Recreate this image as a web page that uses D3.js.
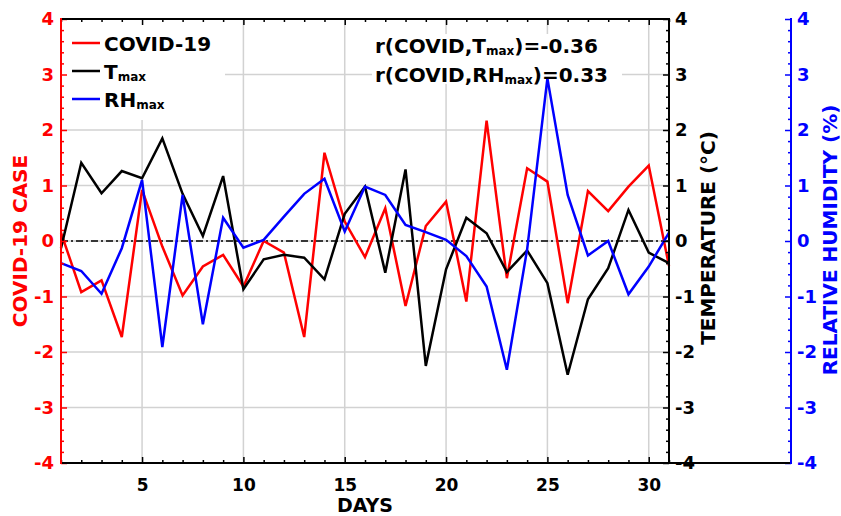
<!DOCTYPE html>
<html>
<head>
<meta charset="utf-8">
<script src="https://cdn.jsdelivr.net/npm/d3@7"></script>
<style>
  html, body { margin: 0; padding: 0; background: #fff; }
  svg { display: block; }
  text { font-family: "DejaVu Sans", sans-serif; font-weight: bold; }
</style>
</head>
<body>
<svg id="chart" width="841" height="516"></svg>
<script>
// ---- data ----
const days = d3.range(1, 32);
const covid = [0.15, -0.92, -0.71, -1.73, 0.92, -0.10, -0.98, -0.46, -0.25, -0.82,
               0.00, -0.21, -1.73, 1.59, 0.35, -0.29, 0.59, -1.17, 0.27, 0.71,
               -1.09, 2.17, -0.67, 1.31, 1.07, -1.12, 0.90, 0.54, 0.98, 1.36, -0.45];
const tmax = [-0.13, 1.41, 0.86, 1.26, 1.13, 1.85, 0.85, 0.09, 1.17, -0.87,
              -0.33, -0.25, -0.30, -0.69, 0.49, 0.98, -0.57, 1.29, -2.25, -0.51,
              0.42, 0.14, -0.56, -0.17, -0.76, -2.41, -1.05, -0.49, 0.56, -0.21, -0.40];
const rhmax = [-0.40, -0.54, -0.95, -0.13, 1.10, -1.91, 0.83, -1.50, 0.42, -0.12,
               0.02, 0.44, 0.85, 1.12, 0.17, 0.98, 0.83, 0.29, 0.16, 0.02,
               -0.27, -0.82, -2.32, -0.15, 2.93, 0.83, -0.26, 0.00, -0.96, -0.46, 0.15];
const xTicks = [5, 10, 15, 20, 25, 30];
const yTicks = [-4, -3, -2, -1, 0, 1, 2, 3, 4];
const corrT = "-0.36";
const corrRH = "0.33";

// ---- layout ----
const L = 61, R = 669, T = 19, B = 463, R2 = 791;
const svg = d3.select("#chart");

const x = d3.scaleLinear().domain([1, 31]).range([L, R]);
const yCase = d3.scaleLinear().domain([-4, 4]).range([B, T]);
const yTemp = d3.scaleLinear().domain([-4, 4]).range([B, T]);
const yRH = d3.scaleLinear().domain([-4, 4]).range([B, T]);

const yMinor = d3.range(-40, 41, 2).map(v => v / 10).filter(v => !yTicks.includes(v));
const xMinor = days.filter(d => !xTicks.includes(d));
const fmt = d => String(d);

// gridlines
const grid = svg.append("g").attr("stroke", "#d2d2d2").attr("stroke-width", 1.5);
grid.selectAll("line.gx").data(xTicks).join("line")
  .attr("x1", d => x(d)).attr("x2", d => x(d)).attr("y1", T).attr("y2", B);
grid.selectAll("line.gy").data(yTicks.filter(v => v > -4 && v < 4)).join("line")
  .attr("x1", L).attr("x2", R).attr("y1", d => yCase(d)).attr("y2", d => yCase(d));

// white boxes behind legend & annotation
svg.append("rect").attr("x", L + 1).attr("y", T + 1).attr("width", 163).attr("height", 100).attr("fill", "#fff");
svg.append("rect").attr("x", 372).attr("y", 34).attr("width", 250).attr("height", 50).attr("fill", "#fff");

// zero line
svg.append("line").attr("x1", L).attr("x2", R).attr("y1", yCase(0)).attr("y2", yCase(0))
  .attr("stroke", "#000").attr("stroke-width", 1.5).attr("stroke-dasharray", "7,3,2,3");

// series
const series = [
  { v: covid, c: "#ff0000", s: yCase },
  { v: tmax, c: "#000000", s: yTemp },
  { v: rhmax, c: "#0000ff", s: yRH }
];
const plot = svg.append("g");
series.forEach(se => {
  const line = d3.line().x((d, i) => x(days[i])).y(d => se.s(d));
  plot.append("path").datum(se.v).attr("d", line).attr("fill", "none")
    .attr("stroke", se.c).attr("stroke-width", 2.5).attr("stroke-linejoin", "miter");
});

function styleAxis(g, color, fs) {
  g.select(".domain").remove();
  g.selectAll(".tick line").attr("stroke", color).attr("stroke-width", 1.5);
  g.selectAll(".tick text").attr("fill", color).style("font-size", fs + "px").style("font-family", "DejaVu Sans").style("font-weight", "bold");
}

// bottom axis
const gxb = svg.append("g").attr("transform", `translate(0,${B})`)
  .call(d3.axisBottom(x).tickValues(xTicks).tickSizeInner(-6).tickSizeOuter(0).tickPadding(16).tickFormat(fmt));
styleAxis(gxb, "#000", 17);
const gxbm = svg.append("g").attr("transform", `translate(0,${B})`)
  .call(d3.axisBottom(x).tickValues(xMinor).tickSizeInner(-3).tickSizeOuter(0).tickFormat(""));
styleAxis(gxbm, "#000", 17);
// top axis ticks
const gxt = svg.append("g").attr("transform", `translate(0,${T})`)
  .call(d3.axisTop(x).tickValues(xTicks).tickSizeInner(-6).tickSizeOuter(0).tickFormat(""));
styleAxis(gxt, "#000", 17);
const gxtm = svg.append("g").attr("transform", `translate(0,${T})`)
  .call(d3.axisTop(x).tickValues(xMinor).tickSizeInner(-3).tickSizeOuter(0).tickFormat(""));
styleAxis(gxtm, "#000", 17);

// left axis (red)
const gl = svg.append("g").attr("transform", `translate(${L},0)`)
  .call(d3.axisLeft(yCase).tickValues(yTicks).tickSizeInner(-6).tickSizeOuter(0).tickPadding(7).tickFormat(fmt));
styleAxis(gl, "#ff0000", 18);
const glm = svg.append("g").attr("transform", `translate(${L},0)`)
  .call(d3.axisLeft(yCase).tickValues(yMinor).tickSizeInner(-3).tickSizeOuter(0).tickFormat(""));
styleAxis(glm, "#ff0000", 18);

// right axis (black)
const gr = svg.append("g").attr("transform", `translate(${R},0)`)
  .call(d3.axisRight(yTemp).tickValues(yTicks).tickSizeInner(-6).tickSizeOuter(0).tickPadding(6).tickFormat(fmt));
styleAxis(gr, "#000", 18);
const grm = svg.append("g").attr("transform", `translate(${R},0)`)
  .call(d3.axisRight(yTemp).tickValues(yMinor).tickSizeInner(-3).tickSizeOuter(0).tickFormat(""));
styleAxis(grm, "#000", 18);

// far right axis (blue)
const gr2 = svg.append("g").attr("transform", `translate(${R2},0)`)
  .call(d3.axisRight(yRH).tickValues(yTicks).tickSizeInner(-6).tickSizeOuter(0).tickPadding(6).tickFormat(fmt));
styleAxis(gr2, "#0000ff", 18);
const gr2m = svg.append("g").attr("transform", `translate(${R2},0)`)
  .call(d3.axisRight(yRH).tickValues(yMinor).tickSizeInner(-3).tickSizeOuter(0).tickFormat(""));
styleAxis(gr2m, "#0000ff", 18);

// axis lines
const ax = svg.append("g").attr("stroke-width", 2).attr("stroke-linecap", "square");
ax.append("line").attr("x1", L).attr("x2", R).attr("y1", T).attr("y2", T).attr("stroke", "#000");
ax.append("line").attr("x1", L).attr("x2", R2).attr("y1", B).attr("y2", B).attr("stroke", "#000");
ax.append("line").attr("x1", R).attr("x2", R).attr("y1", T).attr("y2", B).attr("stroke", "#000");
ax.append("line").attr("x1", L).attr("x2", L).attr("y1", T).attr("y2", B).attr("stroke", "#ff0000");
ax.append("line").attr("x1", R2).attr("x2", R2).attr("y1", T).attr("y2", B).attr("stroke", "#0000ff");

// axis titles
svg.append("text").attr("transform", "translate(27,241) rotate(-90)").attr("text-anchor", "middle")
  .attr("fill", "#ff0000").style("font-size", "20px").text("COVID-19 CASE");
svg.append("text").attr("transform", "translate(715,238) rotate(-90)").attr("text-anchor", "middle")
  .attr("fill", "#000").style("font-size", "20px").text("TEMPERATURE (°C)");
svg.append("text").attr("transform", "translate(837,240) rotate(-90)").attr("text-anchor", "middle")
  .attr("fill", "#0000ff").style("font-size", "20px").text("RELATIVE HUMIDITY (%)");
svg.append("text").attr("x", (L + R) / 2).attr("y", 512).attr("text-anchor", "middle")
  .attr("fill", "#000").style("font-size", "19px").text("DAYS");

// legend
const legend = [
  { name: "COVID-19", sub: "", c: "#ff0000", y: 43 },
  { name: "T", sub: "max", c: "#000000", y: 71 },
  { name: "RH", sub: "max", c: "#0000ff", y: 99 }
];
legend.forEach(it => {
  svg.append("line").attr("x1", 72).attr("x2", 100).attr("y1", it.y).attr("y2", it.y)
    .attr("stroke", it.c).attr("stroke-width", 2.5);
  const t = svg.append("text").attr("x", 104).attr("y", it.y + 8).attr("fill", "#000").style("font-size", "20px");
  t.append("tspan").text(it.name);
  if (it.sub) t.append("tspan").attr("dy", 2).style("font-size", "12px").text(it.sub);
});

// annotation
function corrText(yb, varName, val) {
  const t = svg.append("text").attr("x", 375).attr("y", yb).attr("fill", "#000").style("font-size", "20px");
  t.append("tspan").text("r(COVID," + varName);
  t.append("tspan").attr("dy", 2).style("font-size", "12px").text("max");
  t.append("tspan").attr("dy", -2).text(")=" + val);
}
corrText(53, "T", corrT);
corrText(82, "RH", corrRH);
</script>
</body>
</html>
